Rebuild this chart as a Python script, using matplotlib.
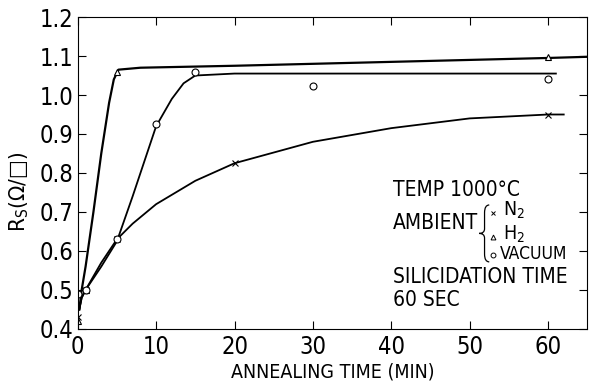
import matplotlib.pyplot as plt
from matplotlib.path import Path
from matplotlib.patches import PathPatch

# font condensato (DejaVu Sans Condensed)
plt.rcParams["font.family"] = ["DejaVu Sans"]
plt.rcParams["font.stretch"] = "condensed"

# punti misurati
n2_t = [0, 1, 5, 20, 60]
n2_r = [0.43, 0.50, 0.63, 0.825, 0.95]
h2_t = [0, 1, 5, 60]
h2_r = [0.42, 0.50, 1.06, 1.097]
vac_t = [0, 1, 5, 10, 15, 30, 60]
vac_r = [0.49, 0.50, 0.63, 0.925, 1.06, 1.023, 1.042]

# curve tracciate a mano
n2_line_t = [0.2, 0.5, 1, 2, 3, 5, 7, 10, 15, 20, 30, 40, 50, 60, 62]
n2_line_r = [0.45, 0.48, 0.50, 0.535, 0.57, 0.63, 0.67, 0.72, 0.78, 0.825, 0.88, 0.915, 0.94, 0.95, 0.95]
h2_line_t = [0.2, 0.5, 1, 2, 3, 4, 4.6, 5.2, 8, 20, 40, 60, 65]
h2_line_r = [0.45, 0.50, 0.56, 0.70, 0.85, 0.98, 1.04, 1.065, 1.07, 1.075, 1.085, 1.095, 1.098]
vac_line_t = [0.2, 0.5, 1, 3, 5, 7, 10, 12, 13.5, 15, 20, 40, 61]
vac_line_r = [0.45, 0.48, 0.50, 0.56, 0.625, 0.74, 0.92, 0.99, 1.03, 1.05, 1.055, 1.055, 1.055]

xticks = [0, 10, 20, 30, 40, 50, 60]
yticks = [0.4, 0.5, 0.6, 0.7, 0.8, 0.9, 1.0, 1.1, 1.2]

fig = plt.figure(figsize=(5.89, 3.87), dpi=100)
ax = fig.add_axes([0.132, 0.150, 0.865, 0.806])

ax.plot(n2_line_t, n2_line_r, color="black", lw=1.3)
ax.plot(h2_line_t, h2_line_r, color="black", lw=1.6)
ax.plot(vac_line_t, vac_line_r, color="black", lw=1.3)

ax.plot(n2_t, n2_r, ls="none", marker="x", ms=4, mec="black", mew=0.8)
ax.plot(h2_t, h2_r, ls="none", marker="^", ms=5, mfc="white", mec="black", mew=0.8)
ax.plot(vac_t, vac_r, ls="none", marker="o", ms=5, mfc="white", mec="black", mew=0.8)

ax.set_xlim(0, 65)
ax.set_ylim(0.4, 1.2)
ax.set_xticks(xticks)
ax.set_yticks(yticks)
ax.set_yticklabels([f"{v:.1f}" for v in yticks])
ax.tick_params(direction="in", top=True, right=True, length=6, width=0.8, labelsize=17)
ax.tick_params(axis="x", pad=4)
ax.tick_params(axis="y", pad=3)
for s in ax.spines.values():
    s.set_linewidth(0.8)

ax.set_xlabel("ANNEALING TIME (MIN)", fontsize=14, labelpad=3)
ax.set_ylabel("R$_\\mathrm{S}$(Ω/□)", fontsize=16)
ax.yaxis.set_label_coords(-0.092, 0.44)

# blocco di testo a destra
kw = dict(transform=ax.transData, fontsize=15, va="center", ha="left")
ax.text(40.2, 0.756, "TEMP 1000°C", **kw)
ax.text(40.2, 0.672, "AMBIENT", **kw)
ax.text(40.2, 0.533, "SILICIDATION TIME", **kw)
ax.text(40.2, 0.474, "60 SEC", **kw)

# graffa
bx, bt, bb, bm = 51.9, 0.718, 0.572, 0.645
verts = [(52.5, bt), (bx, bt), (bx, bt - 0.02),
         (bx, bm + 0.012), (bx, bm), (51.2, bm),
         (bx, bm), (bx, bm - 0.012),
         (bx, bb + 0.02), (bx, bb), (52.5, bb)]
codes = [Path.MOVETO, Path.CURVE3, Path.CURVE3,
         Path.LINETO, Path.CURVE3, Path.CURVE3,
         Path.CURVE3, Path.CURVE3,
         Path.LINETO, Path.CURVE3, Path.CURVE3]
ax.add_patch(PathPatch(Path(verts, codes), fill=False, lw=0.9, color="black"))

ax.plot([53.0], [0.697], ls="none", marker="x", ms=3, mec="black", mew=0.7)
ax.text(54.3, 0.703, "N$_2$", transform=ax.transData, fontsize=14, va="center", ha="left")
ax.plot([53.0], [0.636], ls="none", marker="^", ms=3.5, mfc="white", mec="black", mew=0.7)
ax.text(54.3, 0.642, "H$_2$", transform=ax.transData, fontsize=14, va="center", ha="left")
ax.plot([53.0], [0.590], ls="none", marker="o", ms=3.5, mfc="white", mec="black", mew=0.7)
ax.text(53.8, 0.592, "VACUUM", transform=ax.transData, fontsize=12.5, va="center", ha="left")

fig.savefig("out.png", dpi=100)
